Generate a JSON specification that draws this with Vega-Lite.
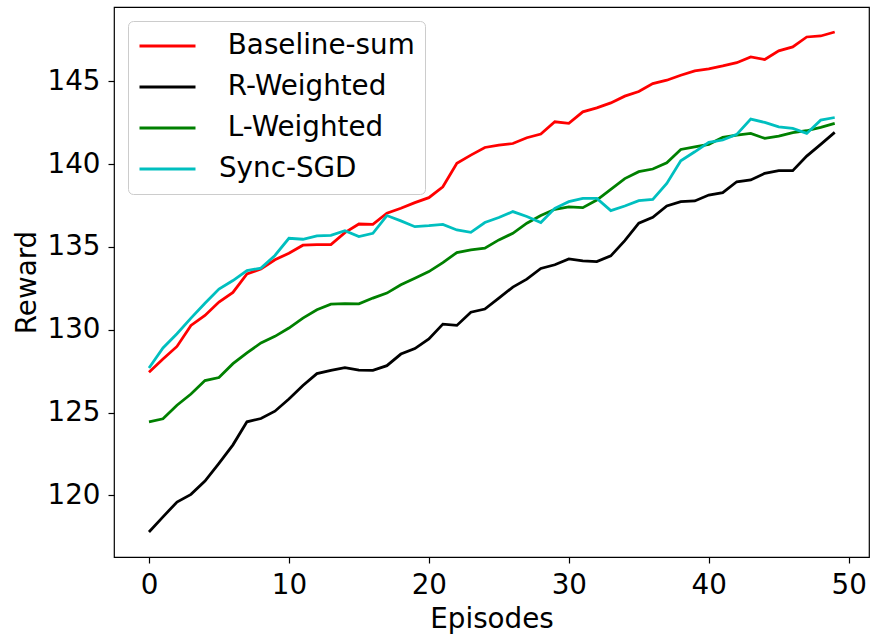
{
  "$schema": "https://vega.github.io/schema/vega-lite/v6.json",
  "width": 755,
  "height": 550,
  "autosize": {"type": "none"},
  "padding": {"left": 114, "top": 7, "right": 1, "bottom": 77},
  "background": "white",
  "config": {
    "font": "DejaVu Sans",
    "view": {"stroke": "black", "strokeWidth": 1.2},
    "axis": {
      "grid": false,
      "domain": false,
      "tickColor": "black",
      "tickSize": 6,
      "tickWidth": 1.2,
      "labelFontSize": 27.78,
      "labelColor": "black",
      "titleFontSize": 27.78,
      "titleFontWeight": "normal",
      "titleColor": "black"
    }
  },
  "data": {
    "values": [
      {"e":0,"m":"Baseline-sum","r":127.43},{"e":1,"m":"Baseline-sum","r":128.23},{"e":2,"m":"Baseline-sum","r":128.99},{"e":3,"m":"Baseline-sum","r":130.26},{"e":4,"m":"Baseline-sum","r":130.86},{"e":5,"m":"Baseline-sum","r":131.67},{"e":6,"m":"Baseline-sum","r":132.25},{"e":7,"m":"Baseline-sum","r":133.37},{"e":8,"m":"Baseline-sum","r":133.66},{"e":9,"m":"Baseline-sum","r":134.22},
      {"e":10,"m":"Baseline-sum","r":134.62},{"e":11,"m":"Baseline-sum","r":135.10},{"e":12,"m":"Baseline-sum","r":135.14},{"e":13,"m":"Baseline-sum","r":135.14},{"e":14,"m":"Baseline-sum","r":135.86},{"e":15,"m":"Baseline-sum","r":136.38},{"e":16,"m":"Baseline-sum","r":136.36},{"e":17,"m":"Baseline-sum","r":137.03},{"e":18,"m":"Baseline-sum","r":137.33},{"e":19,"m":"Baseline-sum","r":137.67},
      {"e":20,"m":"Baseline-sum","r":137.97},{"e":21,"m":"Baseline-sum","r":138.63},{"e":22,"m":"Baseline-sum","r":140.04},{"e":23,"m":"Baseline-sum","r":140.54},{"e":24,"m":"Baseline-sum","r":141.00},{"e":25,"m":"Baseline-sum","r":141.14},{"e":26,"m":"Baseline-sum","r":141.24},{"e":27,"m":"Baseline-sum","r":141.59},{"e":28,"m":"Baseline-sum","r":141.81},{"e":29,"m":"Baseline-sum","r":142.55},
      {"e":30,"m":"Baseline-sum","r":142.46},{"e":31,"m":"Baseline-sum","r":143.15},{"e":32,"m":"Baseline-sum","r":143.39},{"e":33,"m":"Baseline-sum","r":143.69},{"e":34,"m":"Baseline-sum","r":144.10},{"e":35,"m":"Baseline-sum","r":144.38},{"e":36,"m":"Baseline-sum","r":144.86},{"e":37,"m":"Baseline-sum","r":145.06},{"e":38,"m":"Baseline-sum","r":145.36},{"e":39,"m":"Baseline-sum","r":145.62},
      {"e":40,"m":"Baseline-sum","r":145.74},{"e":41,"m":"Baseline-sum","r":145.92},{"e":42,"m":"Baseline-sum","r":146.12},{"e":43,"m":"Baseline-sum","r":146.47},{"e":44,"m":"Baseline-sum","r":146.31},{"e":45,"m":"Baseline-sum","r":146.83},{"e":46,"m":"Baseline-sum","r":147.07},{"e":47,"m":"Baseline-sum","r":147.67},{"e":48,"m":"Baseline-sum","r":147.73},{"e":49,"m":"Baseline-sum","r":147.97},

      {"e":0,"m":"R-Weighted","r":117.79},{"e":1,"m":"R-Weighted","r":118.70},{"e":2,"m":"R-Weighted","r":119.60},{"e":3,"m":"R-Weighted","r":120.06},{"e":4,"m":"R-Weighted","r":120.86},{"e":5,"m":"R-Weighted","r":121.93},{"e":6,"m":"R-Weighted","r":123.05},{"e":7,"m":"R-Weighted","r":124.44},{"e":8,"m":"R-Weighted","r":124.64},{"e":9,"m":"R-Weighted","r":125.08},
      {"e":10,"m":"R-Weighted","r":125.82},{"e":11,"m":"R-Weighted","r":126.63},{"e":12,"m":"R-Weighted","r":127.35},{"e":13,"m":"R-Weighted","r":127.55},{"e":14,"m":"R-Weighted","r":127.71},{"e":15,"m":"R-Weighted","r":127.56},{"e":16,"m":"R-Weighted","r":127.55},{"e":17,"m":"R-Weighted","r":127.83},{"e":18,"m":"R-Weighted","r":128.53},{"e":19,"m":"R-Weighted","r":128.86},
      {"e":20,"m":"R-Weighted","r":129.44},{"e":21,"m":"R-Weighted","r":130.34},{"e":22,"m":"R-Weighted","r":130.26},{"e":23,"m":"R-Weighted","r":131.06},{"e":24,"m":"R-Weighted","r":131.25},{"e":25,"m":"R-Weighted","r":131.91},{"e":26,"m":"R-Weighted","r":132.57},{"e":27,"m":"R-Weighted","r":133.05},{"e":28,"m":"R-Weighted","r":133.70},{"e":29,"m":"R-Weighted","r":133.92},
      {"e":30,"m":"R-Weighted","r":134.27},{"e":31,"m":"R-Weighted","r":134.16},{"e":32,"m":"R-Weighted","r":134.11},{"e":33,"m":"R-Weighted","r":134.46},{"e":34,"m":"R-Weighted","r":135.38},{"e":35,"m":"R-Weighted","r":136.43},{"e":36,"m":"R-Weighted","r":136.79},{"e":37,"m":"R-Weighted","r":137.47},{"e":38,"m":"R-Weighted","r":137.73},{"e":39,"m":"R-Weighted","r":137.77},
      {"e":40,"m":"R-Weighted","r":138.13},{"e":41,"m":"R-Weighted","r":138.27},{"e":42,"m":"R-Weighted","r":138.93},{"e":43,"m":"R-Weighted","r":139.04},{"e":44,"m":"R-Weighted","r":139.44},{"e":45,"m":"R-Weighted","r":139.60},{"e":46,"m":"R-Weighted","r":139.60},{"e":47,"m":"R-Weighted","r":140.48},{"e":48,"m":"R-Weighted","r":141.19},{"e":49,"m":"R-Weighted","r":141.91},

      {"e":0,"m":"L-Weighted","r":124.44},{"e":1,"m":"L-Weighted","r":124.62},{"e":2,"m":"L-Weighted","r":125.44},{"e":3,"m":"L-Weighted","r":126.12},{"e":4,"m":"L-Weighted","r":126.93},{"e":5,"m":"L-Weighted","r":127.11},{"e":6,"m":"L-Weighted","r":127.95},{"e":7,"m":"L-Weighted","r":128.60},{"e":8,"m":"L-Weighted","r":129.20},{"e":9,"m":"L-Weighted","r":129.60},
      {"e":10,"m":"L-Weighted","r":130.10},{"e":11,"m":"L-Weighted","r":130.70},{"e":12,"m":"L-Weighted","r":131.20},{"e":13,"m":"L-Weighted","r":131.54},{"e":14,"m":"L-Weighted","r":131.57},{"e":15,"m":"L-Weighted","r":131.56},{"e":16,"m":"L-Weighted","r":131.91},{"e":17,"m":"L-Weighted","r":132.21},{"e":18,"m":"L-Weighted","r":132.71},{"e":19,"m":"L-Weighted","r":133.11},
      {"e":20,"m":"L-Weighted","r":133.51},{"e":21,"m":"L-Weighted","r":134.05},{"e":22,"m":"L-Weighted","r":134.66},{"e":23,"m":"L-Weighted","r":134.82},{"e":24,"m":"L-Weighted","r":134.92},{"e":25,"m":"L-Weighted","r":135.42},{"e":26,"m":"L-Weighted","r":135.82},{"e":27,"m":"L-Weighted","r":136.43},{"e":28,"m":"L-Weighted","r":136.89},{"e":29,"m":"L-Weighted","r":137.27},
      {"e":30,"m":"L-Weighted","r":137.41},{"e":31,"m":"L-Weighted","r":137.37},{"e":32,"m":"L-Weighted","r":137.83},{"e":33,"m":"L-Weighted","r":138.47},{"e":34,"m":"L-Weighted","r":139.12},{"e":35,"m":"L-Weighted","r":139.54},{"e":36,"m":"L-Weighted","r":139.70},{"e":37,"m":"L-Weighted","r":140.08},{"e":38,"m":"L-Weighted","r":140.88},{"e":39,"m":"L-Weighted","r":141.04},
      {"e":40,"m":"L-Weighted","r":141.19},{"e":41,"m":"L-Weighted","r":141.61},{"e":42,"m":"L-Weighted","r":141.75},{"e":43,"m":"L-Weighted","r":141.85},{"e":44,"m":"L-Weighted","r":141.55},{"e":45,"m":"L-Weighted","r":141.69},{"e":46,"m":"L-Weighted","r":141.89},{"e":47,"m":"L-Weighted","r":142.01},{"e":48,"m":"L-Weighted","r":142.21},{"e":49,"m":"L-Weighted","r":142.45},

      {"e":0,"m":"Sync-SGD","r":127.69},{"e":1,"m":"Sync-SGD","r":128.90},{"e":2,"m":"Sync-SGD","r":129.76},{"e":3,"m":"Sync-SGD","r":130.70},{"e":4,"m":"Sync-SGD","r":131.60},{"e":5,"m":"Sync-SGD","r":132.45},{"e":6,"m":"Sync-SGD","r":132.97},{"e":7,"m":"Sync-SGD","r":133.57},{"e":8,"m":"Sync-SGD","r":133.72},{"e":9,"m":"Sync-SGD","r":134.48},
      {"e":10,"m":"Sync-SGD","r":135.52},{"e":11,"m":"Sync-SGD","r":135.46},{"e":12,"m":"Sync-SGD","r":135.66},{"e":13,"m":"Sync-SGD","r":135.70},{"e":14,"m":"Sync-SGD","r":135.98},{"e":15,"m":"Sync-SGD","r":135.62},{"e":16,"m":"Sync-SGD","r":135.82},{"e":17,"m":"Sync-SGD","r":136.89},{"e":18,"m":"Sync-SGD","r":136.57},{"e":19,"m":"Sync-SGD","r":136.22},
      {"e":20,"m":"Sync-SGD","r":136.28},{"e":21,"m":"Sync-SGD","r":136.36},{"e":22,"m":"Sync-SGD","r":136.02},{"e":23,"m":"Sync-SGD","r":135.88},{"e":24,"m":"Sync-SGD","r":136.47},{"e":25,"m":"Sync-SGD","r":136.77},{"e":26,"m":"Sync-SGD","r":137.13},{"e":27,"m":"Sync-SGD","r":136.83},{"e":28,"m":"Sync-SGD","r":136.47},{"e":29,"m":"Sync-SGD","r":137.33},
      {"e":30,"m":"Sync-SGD","r":137.73},{"e":31,"m":"Sync-SGD","r":137.93},{"e":32,"m":"Sync-SGD","r":137.93},{"e":33,"m":"Sync-SGD","r":137.19},{"e":34,"m":"Sync-SGD","r":137.47},{"e":35,"m":"Sync-SGD","r":137.79},{"e":36,"m":"Sync-SGD","r":137.87},{"e":37,"m":"Sync-SGD","r":138.83},{"e":38,"m":"Sync-SGD","r":140.20},{"e":39,"m":"Sync-SGD","r":140.74},
      {"e":40,"m":"Sync-SGD","r":141.31},{"e":41,"m":"Sync-SGD","r":141.45},{"e":42,"m":"Sync-SGD","r":141.79},{"e":43,"m":"Sync-SGD","r":142.71},{"e":44,"m":"Sync-SGD","r":142.51},{"e":45,"m":"Sync-SGD","r":142.25},{"e":46,"m":"Sync-SGD","r":142.15},{"e":47,"m":"Sync-SGD","r":141.85},{"e":48,"m":"Sync-SGD","r":142.65},{"e":49,"m":"Sync-SGD","r":142.81}
    ]
  },
  "mark": {"type": "line", "strokeWidth": 2.78, "clip": true},
  "encoding": {
    "x": {
      "field": "e",
      "type": "quantitative",
      "scale": {"domain": [-2.5, 51.45], "nice": false, "zero": false},
      "axis": {
        "values": [0, 10, 20, 30, 40, 50],
        "title": "Episodes",
        "labelPadding": 8,
        "titleBaseline": "alphabetic",
        "titleY": 70.5,
        "titleX": 377.5,
        "titleAnchor": "middle"
      }
    },
    "y": {
      "field": "r",
      "type": "quantitative",
      "scale": {"domain": [116.28, 149.48], "nice": false, "zero": false},
      "axis": {
        "values": [120, 125, 130, 135, 140, 145],
        "title": "Reward",
        "labelPadding": 8,
        "titleBaseline": "alphabetic",
        "titleX": -79,
        "titleY": 275,
        "titleAngle": -90,
        "titleAnchor": "middle"
      }
    },
    "color": {
      "field": "m",
      "type": "nominal",
      "scale": {
        "domain": ["Baseline-sum", "R-Weighted", "L-Weighted", "Sync-SGD"],
        "range": ["#ff0000", "#000000", "#008000", "#00bfbf"]
      },
      "legend": {
        "title": null,
        "orient": "top-left",
        "offset": 14,
        "symbolType": "stroke",
        "symbolSize": 3136,
        "symbolStrokeWidth": 2.78,
        "labelFontSize": 27.78,
        "labelColor": "black",
        "labelOffset": 22,
        "labelLimit": 400,
        "clipHeight": 30,
        "rowPadding": 11,
        "padding": 10,
        "strokeColor": "#cccccc",
        "fillColor": "white",
        "cornerRadius": 5,
        "labelExpr": "datum.label == 'Sync-SGD' ? datum.label : '\\u200b\\u00a0' + datum.label"
      }
    }
  }
}
